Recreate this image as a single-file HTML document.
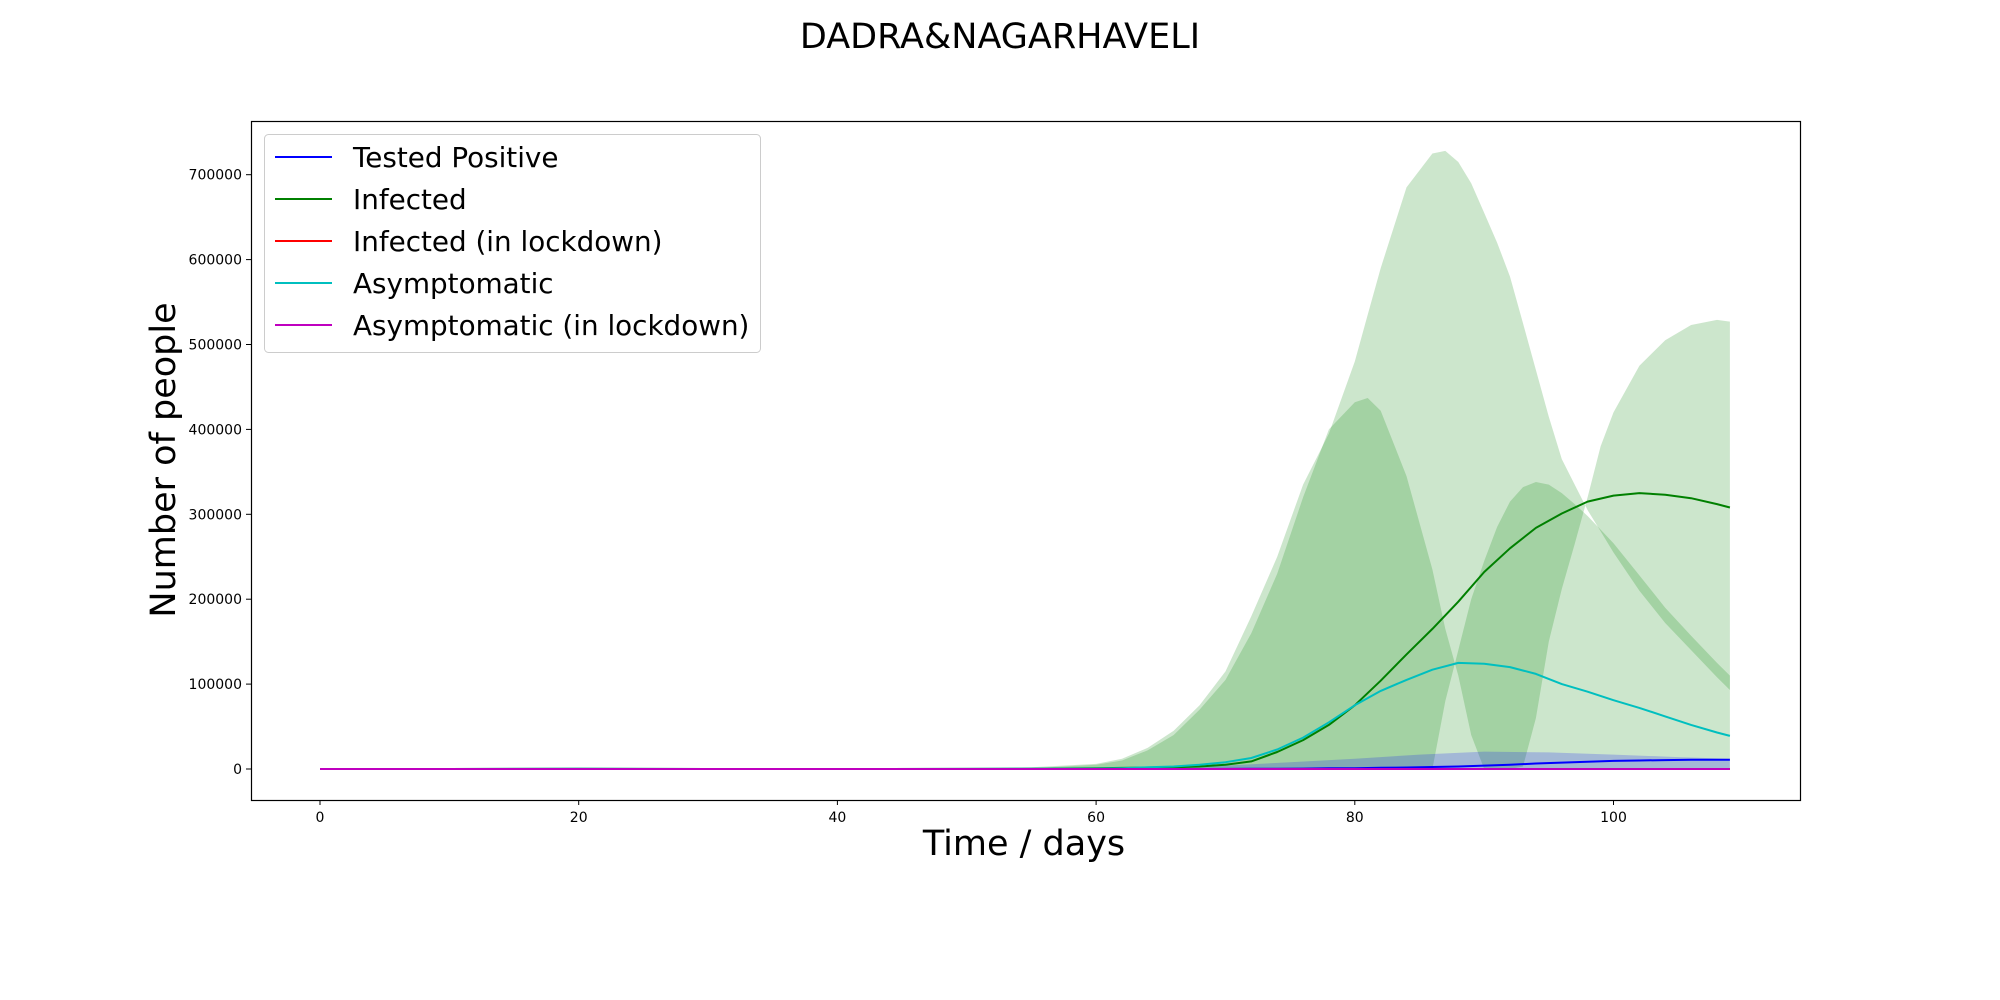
<!DOCTYPE html>
<html><head><meta charset="utf-8"><style>
body{margin:0;background:#fff}
svg{display:block;font-family:"DejaVu Sans","Liberation Sans",sans-serif}
</style></head><body>
<svg id="chart" width="2000" height="1000" viewBox="0 0 2000 1000">
<text x="1000" y="48" font-size="35" text-anchor="middle">DADRA&amp;NAGARHAVELI</text>
<g id="fills"></g><g id="lines"></g><g id="axes"></g>
<text x="1024" y="855" font-size="35" text-anchor="middle">Time / days</text>
<text transform="translate(175,460) rotate(-90)" font-size="35" text-anchor="middle">Number of people</text>
<g>
<rect x="264.5" y="134.5" width="496" height="218" rx="4" fill="#fff" fill-opacity="0.8" stroke="#ccc"/>
<g><line x1="275" x2="332" y1="157" y2="157" stroke="#0000ff" stroke-width="2"/><text x="353" y="167" font-size="27.8">Tested Positive</text></g>
<g><line x1="275" x2="332" y1="199" y2="199" stroke="#008000" stroke-width="2"/><text x="353" y="209" font-size="27.8">Infected</text></g>
<g><line x1="275" x2="332" y1="241" y2="241" stroke="#ff0000" stroke-width="2"/><text x="353" y="251" font-size="27.8">Infected (in lockdown)</text></g>
<g><line x1="275" x2="332" y1="283" y2="283" stroke="#00bfbf" stroke-width="2"/><text x="353" y="293" font-size="27.8">Asymptomatic</text></g>
<g><line x1="275" x2="332" y1="325" y2="325" stroke="#bf00bf" stroke-width="2"/><text x="353" y="335" font-size="27.8">Asymptomatic (in lockdown)</text></g>
</g>
</svg>
<script>
// values in thousands of people
const lineDays = [0,10,20,30,40,50,55,60,62,64,66,68,70,72,74,76,78,80,82,84,86,88,90,92,94,96,98,100,102,104,106,108,109];
const infected = [0,0,0.3,0,0,0.1,0.3,1,1.3,1.7,2,3,5,9,20,34,52,75,104,135,165,197,232,260,284,301,315,322,325,323,319,312,308];
const asymptomatic = [0,0,0.2,0,0,0.1,0.3,0.5,1,2,3,5,8,13,23,37,55,75,92,105,117,125,124,120,112,100,91,81,72,62,52,43,39];
const testedPositive = [0,0,0,0,0,0,0,0,0,0,0,0,0.1,0.2,0.3,0.5,0.8,1,1.4,1.8,2.3,3,4,5,6.5,7.5,8.5,9.5,10,10.5,10.8,11,11];
const infectedLockdown = lineDays.map(()=>0);
const asymptomaticLockdown = lineDays.map(()=>0);

const bandDays = [0,50,55,60,62,64,66,68,70,72,74,76,78,80,81,82,84,86,87,88,89,90,91,92,93,94,95,96,97,98,99,100,102,104,106,108,109];
const bandA = [0,0.5,2,6,12,25,45,75,115,180,250,335,395,480,535,590,685,725,728,715,690,655,620,580,525,470,415,365,335,305,280,255,210,172,140,108,93];
const bandD = [0,0,0,0,0,0,0,0,0,0,0,0,0,0,0,0,0,0,0,0,0,0,0,0,3,60,150,212,265,320,380,420,475,505,523,529,527];
const bandB = [0,0.3,1,5,10,22,40,70,105,160,230,320,400,432,437,422,345,235,165,110,40,0,0,0,0,0,0,0,0,0,0,0,0,0,0,0,0];
const bandC = [0,0,0,0,0,0,0,0,0,0,0,0,0,0,0,0,0,0,80,140,200,245,285,315,332,338,335,325,312,298,282,266,228,190,157,125,110];

const blueDays = [55,60,65,70,75,80,85,90,95,100,105,109];
const blueUpper = [0,0.5,2,4,8,12,17,20.5,19.5,17,14,12];
const blueLower = [0,0,0,0,0,0,0,0,0,0,0,0];

const xTicks = [0,20,40,60,80,100];
const yTicks = [0,100000,200000,300000,400000,500000,600000,700000];

const NS='http://www.w3.org/2000/svg';
const X0=251,X1=1800,Y0=121,Y1=800;
function sx(d){return 320 + d*12.935;}
function sy(k){return 769 - k*0.849;}
function mk(tag,attrs,parent){const e=document.createElementNS(NS,tag);for(const k in attrs)e.setAttribute(k,attrs[k]);parent.appendChild(e);return e;}
const fills=document.getElementById('fills'),lines=document.getElementById('lines'),axes=document.getElementById('axes');

function band(days,lo,hi,color,op,name){
  let pts=days.map((d,i)=>sx(d).toFixed(1)+','+sy(hi[i]).toFixed(1));
  for(let i=days.length-1;i>=0;i--)pts.push(sx(days[i]).toFixed(1)+','+sy(lo[i]).toFixed(1));
  const p=mk('polygon',{points:pts.join(' '),fill:color,'fill-opacity':op},fills);
  
  
}
band(bandDays,bandD,bandA,'#008000',0.2,'infected-band-outer');
band(bandDays,bandC,bandB,'#008000',0.2,'infected-band-inner');
band(blueDays,blueLower,blueUpper,'#0000ff',0.2,'tested-positive-band');

function line(vals,color,name){
  const pts=lineDays.map((d,i)=>sx(d).toFixed(1)+','+sy(vals[i]).toFixed(1)).join(' ');
  const p=mk('polyline',{points:pts,fill:'none',stroke:color,'stroke-width':2,'stroke-linejoin':'round'},lines);
  
  
}
line(testedPositive,'#0000ff','tested-positive-line');
line(infected,'#008000','infected-line');
line(infectedLockdown,'#ff0000','infected-lockdown-line');
line(asymptomatic,'#00bfbf','asymptomatic-line');
line(asymptomaticLockdown,'#bf00bf','asymptomatic-lockdown-line');

const frame=mk('rect',{x:X0+0.5,y:Y0+0.5,width:X1-X0,height:Y1-Y0,fill:'none',stroke:'#000','stroke-width':1.2},axes);


xTicks.forEach(t=>{
  const x=sx(t);
  const tk=mk('line',{x1:x,x2:x,y1:Y1,y2:Y1+5,stroke:'#000'},axes);
  
  
  const tx=mk('text',{x:x,y:Y1+22,'font-size':14,'text-anchor':'middle'},axes);
  tx.textContent=t;
  
  
});
yTicks.forEach(t=>{
  const y=sy(t/1000);
  const tk=mk('line',{x1:X0-5,x2:X0,y1:y,y2:y,stroke:'#000'},axes);
  
  
  const tx=mk('text',{x:X0-9,y:y+5,'font-size':14,'text-anchor':'end'},axes);
  tx.textContent=t;
  
  
});
</script>
</body></html>
